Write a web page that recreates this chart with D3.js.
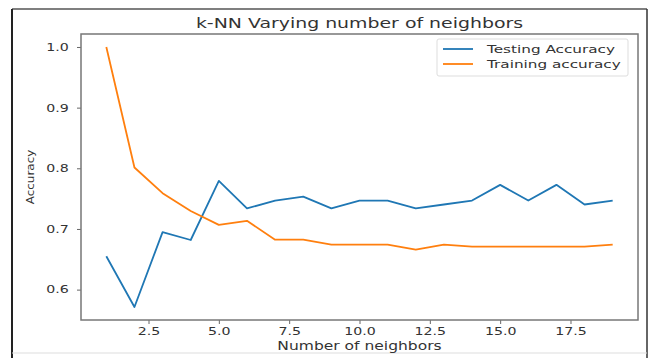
<!DOCTYPE html>
<html>
<head>
<meta charset="utf-8">
<script src="https://cdn.jsdelivr.net/npm/d3@7"></script>
<style>
  html, body { margin: 0; padding: 0; background: #fff; }
  svg { display: block; }
  text { font-family: "DejaVu Sans", sans-serif; fill: #333; }
</style>
</head>
<body>
<svg id="chart" width="652" height="358"></svg>
<script>
// k values used for the sweep
const neighbors = [1, 2, 3, 4, 5, 6, 7, 8, 9, 10, 11, 12, 13, 14, 15, 16, 17, 18, 19];
// accuracy on held-out test set
const testAccuracy = [0.655, 0.5714, 0.6948, 0.6818, 0.7792, 0.7338, 0.7468, 0.7532, 0.7338, 0.7468,
                      0.7468, 0.7338, 0.7403, 0.7468, 0.7727, 0.7468, 0.7727, 0.7403, 0.7468];
// accuracy on training set
const trainAccuracy = [1.0, 0.8013, 0.7590, 0.7296, 0.7068, 0.7134, 0.6824, 0.6824, 0.6743, 0.6743,
                       0.6743, 0.6661, 0.6743, 0.6710, 0.6710, 0.6710, 0.6710, 0.6710, 0.6743];
const xTicks = [2.5, 5.0, 7.5, 10.0, 12.5, 15.0, 17.5];
const yTicks = [0.6, 0.7, 0.8, 0.9, 1.0];
const seriesNames = ["Testing Accuracy", "Training accuracy"];
const seriesColors = ["#1f77b4", "#ff7f0e"];

const svg = d3.select("#chart");
const SX = 1.35; // horizontal text stretch

// outer frame of the figure
svg.append("line").attr("x1", 12).attr("y1", 9).attr("x2", 647).attr("y2", 9)
  .attr("stroke", "#555").attr("stroke-width", 1.5);
svg.append("line").attr("x1", 12).attr("y1", 9).attr("x2", 12).attr("y2", 358)
  .attr("stroke", "#222").attr("stroke-width", 2);
svg.append("line").attr("x1", 647).attr("y1", 9).attr("x2", 647).attr("y2", 358)
  .attr("stroke", "#333").attr("stroke-width", 1.5);
svg.append("line").attr("x1", 12).attr("y1", 353).attr("x2", 647).attr("y2", 353)
  .attr("stroke", "#ddd").attr("stroke-width", 1);

const plot = { left: 81, right: 638, top: 34, bottom: 320 };

const x = d3.scaleLinear().domain([0.1, 19.9]).range([plot.left, plot.right]);
const y = d3.scaleLinear().domain([0.5499, 1.0214]).range([plot.bottom, plot.top]);

function stretchedText(g, tx, ty, str, size, anchor) {
  return g.append("text")
    .attr("transform", `translate(${tx},${ty}) scale(${SX},1)`)
    .attr("text-anchor", anchor || "middle")
    .style("font-size", size + "px")
    .text(str);
}

// axes
const xAxis = svg.append("g").attr("transform", `translate(0,${plot.bottom})`)
  .call(d3.axisBottom(x).tickValues(xTicks).tickFormat(d3.format(".1f")).tickSize(4).tickPadding(4));
const yAxis = svg.append("g").attr("transform", `translate(${plot.left},0)`)
  .call(d3.axisLeft(y).tickValues(yTicks).tickFormat(d3.format(".1f")).tickSize(4).tickPadding(5));
[xAxis, yAxis].forEach(a => {
  a.select(".domain").remove();
  a.selectAll(".tick line").attr("stroke", "#666").attr("stroke-width", 1);
  a.selectAll(".tick text").style("font-size", "10.5px").style("font-family", "DejaVu Sans").attr("fill", "#444");
});
xAxis.selectAll(".tick text").attr("transform", `scale(${SX},1)`);
yAxis.selectAll(".tick text").attr("transform", `scale(${SX},1)`);

// plot frame
svg.append("rect")
  .attr("x", plot.left).attr("y", plot.top)
  .attr("width", plot.right - plot.left).attr("height", plot.bottom - plot.top)
  .attr("fill", "none").attr("stroke", "#777").attr("stroke-width", 1.5);

// series lines
const line = d3.line().x((d, i) => x(neighbors[i])).y(d => y(d));
[testAccuracy, trainAccuracy].forEach((vals, k) => {
  svg.append("path").datum(vals)
    .attr("d", line)
    .attr("fill", "none")
    .attr("stroke", seriesColors[k])
    .attr("stroke-width", 1.8)
    .attr("stroke-linejoin", "round");
});

// title and axis labels
stretchedText(svg, (plot.left + plot.right) / 2, 28, "k-NN Varying number of neighbors", 14, "middle");
stretchedText(svg, (plot.left + plot.right) / 2, 350, "Number of neighbors", 11.5, "middle");
svg.append("text")
  .attr("transform", `translate(34,${(plot.top + plot.bottom) / 2}) rotate(-90) scale(1,0.8)`)
  .attr("text-anchor", "middle")
  .style("font-size", "12px")
  .text("Accuracy");

// legend
const lg = svg.append("g");
lg.append("rect").attr("x", 437).attr("y", 39).attr("width", 191).attr("height", 37)
  .attr("rx", 2).attr("fill", "#fff").attr("stroke", "#ddd");
seriesNames.forEach((name, k) => {
  const ly = 49 + k * 15;
  lg.append("line").attr("x1", 443).attr("x2", 473).attr("y1", ly).attr("y2", ly)
    .attr("stroke", seriesColors[k]).attr("stroke-width", 1.8);
  stretchedText(lg, 487, ly + 4, name, 11.3, "start");
});
</script>
</body>
</html>
